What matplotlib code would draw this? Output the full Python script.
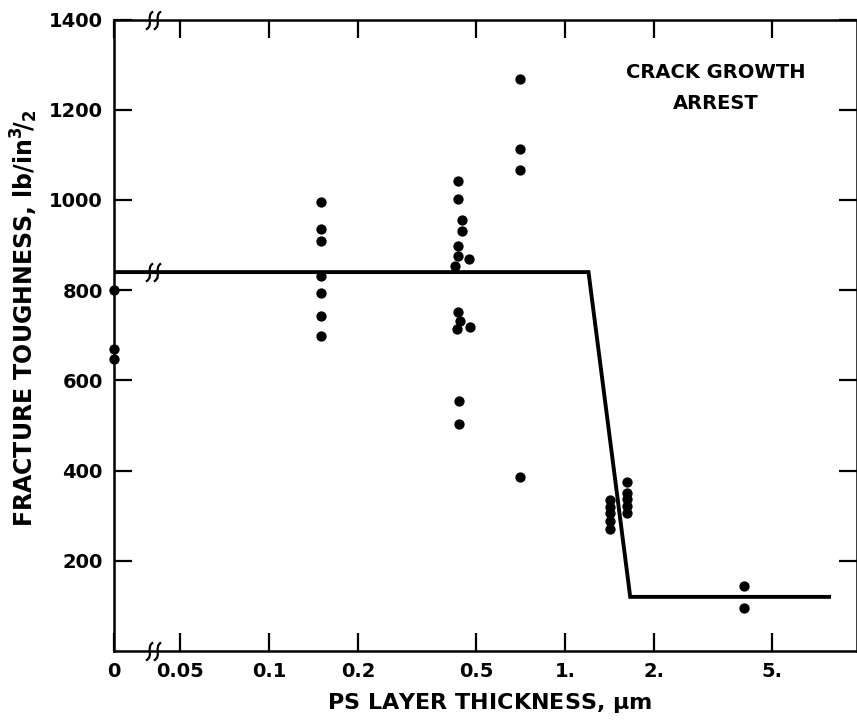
import numpy as np
import matplotlib
matplotlib.use("Agg")
import matplotlib.pyplot as plt
from matplotlib.ticker import FixedLocator, FixedFormatter, NullLocator
from matplotlib.path import Path

# ---------------- data ----------------
x0_vals = [0, 0, 0]
y0_vals = [801, 669, 647]

x015 = [0.15, 0.15, 0.15, 0.15, 0.15, 0.15, 0.15]
y015 = [995, 936, 910, 832, 793, 743, 699]

x045 = [0.435, 0.435, 0.448, 0.448, 0.435, 0.435, 0.475, 0.425,
        0.435, 0.44, 0.432, 0.477, 0.438, 0.438]
y045 = [1041, 1002, 956, 932, 898, 876, 869, 853,
        752, 732, 713, 718, 554, 504]

x07 = [0.705, 0.705, 0.705, 0.705]
y07 = [1267, 1112, 1067, 385]

x14 = [1.42, 1.42, 1.42, 1.42, 1.42]
y14 = [335, 320, 305, 288, 270]

x16 = [1.62, 1.62, 1.62, 1.62, 1.62]
y16 = [375, 350, 337, 322, 306]

x4 = [4.02, 4.02]
y4 = [145, 96]

line_x = [0, 1.2, 1.66, 7.8]
line_y = [840, 840, 120, 120]

xticks = [0, 0.05, 0.1, 0.2, 0.5, 1.0, 2.0, 5.0]
xticklabels = ["0", "0.05", "0.1", "0.2", "0.5", "1.", "2.", "5."]
yticks = [200, 400, 600, 800, 1000, 1200, 1400]
yticklabels = ["200", "400", "600", "800", "1000", "1200", "1400"]

BREAK_X = 0.0405
ZERO_POS = -1.524   # position (in log10 units) where x = 0 sits (left axis)

# ---------------- scale ----------------
def fwd(x):
    x = np.asarray(x, dtype=float)
    safe = np.where(x > 0, x, 1.0)
    return np.where(x > 0, np.log10(safe), ZERO_POS)

def inv(u):
    return np.power(10.0, np.asarray(u, dtype=float))

plt.rcParams['font.family'] = ['DejaVu Sans']
plt.rcParams['font.weight'] = 'bold'
plt.rcParams['mathtext.default'] = 'bf'

fig = plt.figure(figsize=(8.57, 7.21), dpi=100)
ax = fig.add_axes([114 / 857, 70 / 721, 1 - 114 / 857, (651 - 19.5) / 721])
ax.set_xscale('function', functions=(fwd, inv))
ax.set_xlim(0, 9.69)
ax.set_ylim(0, 1400)

ms = 55
for xs, ys in [(x0_vals, y0_vals), (x015, y015), (x045, y045), (x07, y07),
               (x14, y14), (x16, y16), (x4, y4)]:
    ax.scatter(xs, ys, s=ms, color='black', zorder=4, clip_on=False,
               linewidths=0)

ax.plot(line_x, line_y, color='black', lw=2.8, solid_joinstyle='miter',
        zorder=3)

# ticks
ax.xaxis.set_major_locator(FixedLocator(xticks))
ax.xaxis.set_major_formatter(FixedFormatter(xticklabels))
ax.xaxis.set_minor_locator(NullLocator())
ax.yaxis.set_major_locator(FixedLocator(yticks))
ax.yaxis.set_major_formatter(FixedFormatter(yticklabels))
ax.yaxis.set_minor_locator(NullLocator())
ax.tick_params(axis='both', which='major', direction='in', length=13,
               width=1.6, labelsize=14, pad=8, top=True, right=True,
               color='black')
for lab in ax.get_xticklabels() + ax.get_yticklabels():
    lab.set_fontweight('bold')

for sp in ax.spines.values():
    sp.set_linewidth(1.8)

# axis break marks: two small tilted S-curves
codes = [Path.MOVETO, Path.CURVE4, Path.CURVE4, Path.CURVE4,
         Path.MOVETO, Path.CURVE4, Path.CURVE4, Path.CURVE4]
verts = [(-0.42, -0.5), (0.05, -0.25), (-0.45, 0.25), (-0.02, 0.5),
         (0.02, -0.5), (0.49, -0.25), (-0.01, 0.25), (0.42, 0.5)]
squiggle = Path(verts, codes)

def brk(x, y, trans):
    ax.plot([x], [y], marker=squiggle, markersize=13, markeredgewidth=1.6,
            markeredgecolor='black', markerfacecolor='none', linestyle='none',
            transform=trans, zorder=6, clip_on=False)

brk(BREAK_X, 0.0, ax.get_xaxis_transform())
brk(BREAK_X, 1.0, ax.get_xaxis_transform())
brk(BREAK_X, 840, ax.transData)

ax.text(0.81, 0.8915, "CRACK GROWTH\nARREST", transform=ax.transAxes,
        ha='center', va='center', fontsize=14, fontweight='bold',
        linespacing=1.75)

fig.text(490 / 857, 1 - 703 / 721, r"PS LAYER THICKNESS, $\mu$m",
         ha='center', va='center', fontsize=16, fontweight='bold')
fig.text(24 / 857, 1 - 318 / 721,
         r"FRACTURE TOUGHNESS, lb/in$^{3}\!/_{2}$",
         ha='center', va='center', rotation=90, fontsize=17,
         fontweight='bold')

fig.savefig("out.png", dpi=100)
